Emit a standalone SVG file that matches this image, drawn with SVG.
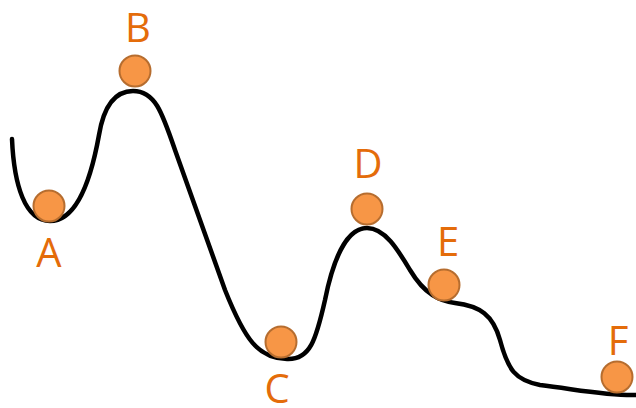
<svg xmlns="http://www.w3.org/2000/svg" width="636" height="408" viewBox="0 0 636 408">
<style>
.ball{fill:#F79646;stroke:#B66D2F;stroke-width:2}
.lbl{font-family:"Open Sans","Liberation Sans",sans-serif;font-size:40px;fill:#E46C0A;text-anchor:middle}
.curve{fill:none;stroke:#000;stroke-width:4.5;stroke-linecap:round}
</style>
<rect width="636" height="408" fill="#fff"/>
<g id="landscape">
<path class="curve" d="M12,139 C14,185 25,221 50,221 C75,221 90,185 99,135 C104,105 115,91 133,91 C155,91 162,112 175,150 L225,290 C245,340 258,358 287,359 C310,360 316,340 325,300 C335,250 350,228 367,228 C385,228 398,250 410,270 C425,295 440,301 455,303 C480,306 493,315 500,340 C508,370 515,380 540,385 C580,390 610,396 636,395"/>
</g>
<g id="A"><circle class="ball" cx="49" cy="206" r="15.5"/><text class="lbl" x="49" y="267">A</text></g>
<g id="B"><circle class="ball" cx="135" cy="71" r="15.5"/><text class="lbl" x="138" y="42">B</text></g>
<g id="C"><circle class="ball" cx="281" cy="342" r="15.5"/><text class="lbl" x="277" y="403">C</text></g>
<g id="D"><circle class="ball" cx="367" cy="209" r="15.5"/><text class="lbl" x="368" y="178">D</text></g>
<g id="E"><circle class="ball" cx="444" cy="285" r="15.5"/><text class="lbl" x="448" y="256">E</text></g>
<g id="F"><circle class="ball" cx="617" cy="377" r="15.5"/><text class="lbl" x="618" y="355">F</text></g>
</svg>
